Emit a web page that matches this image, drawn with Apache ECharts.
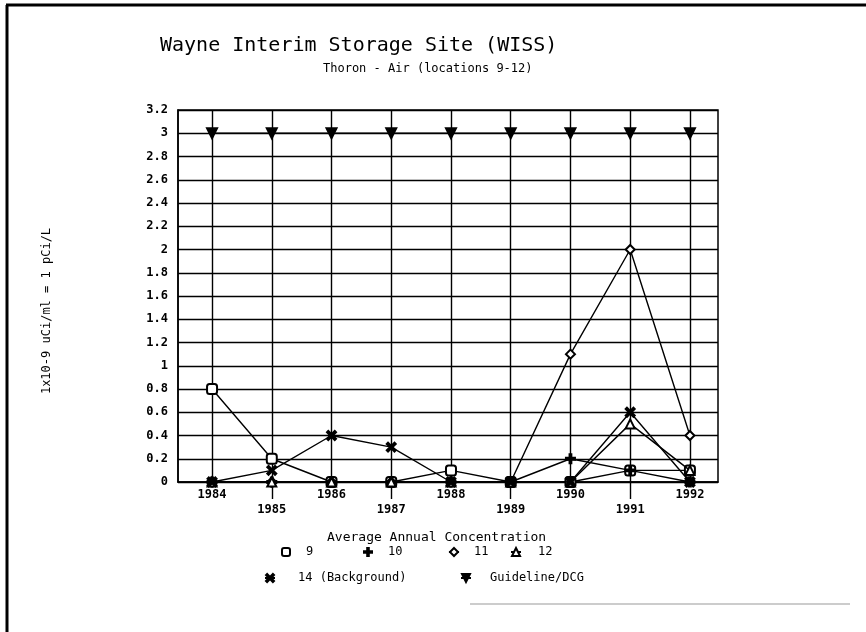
<!DOCTYPE html>
<html><head><meta charset="utf-8">
<script src="https://cdn.jsdelivr.net/npm/echarts@6/dist/echarts.min.js"></script>
<style>html,body{margin:0;padding:0;background:#fff}#c{width:866px;height:632px}</style>
</head><body><div id="c"></div>
<script>
// ---- data ----
const years = [1984, 1985, 1986, 1987, 1988, 1989, 1990, 1991, 1992];
const oddYears = [1985, 1987, 1989, 1991];
const loc9  = [0.8, 0.2, 0, 0, 0.1, 0, 0, 0.1, 0.1];
const loc10 = [0, 0, 0, 0, 0, 0, 0.2, 0.1, 0];
const loc11 = [0, 0, 0, 0, 0, 0, 1.1, 2.0, 0.4];
const loc12 = [0, 0, 0, 0, 0, 0, 0, 0.5, 0.1];
const loc14 = [0, 0.1, 0.4, 0.3, 0, 0, 0, 0.6, 0];
const guideline = [3, 3, 3, 3, 3, 3, 3, 3, 3];
const seriesNames = ['9', '10', '11', '12', '14 (Background)', 'Guideline/DCG'];

// ---- styling ----
const MONO = 'DejaVu Sans Mono';
const PLUS = 'path://M4,0 L6,0 L6,4 L10,4 L10,6 L6,6 L6,10 L4,10 L4,6 L0,6 L0,4 L4,4 Z';
const CROSS = 'path://M0,1.4 L1.4,0 L5,3.6 L8.6,0 L10,1.4 L6.4,5 L10,8.6 L8.6,10 L5,6.4 L1.4,10 L0,8.6 L3.6,5 Z';
const DOWNTRI = 'path://M0,0 L10,0 L5,9 Z';
const symbols = ['emptyRoundRect', PLUS, 'emptyDiamond', 'emptyTriangle', CROSS, DOWNTRI];
const sizes = [10, 9, 9, 9, 9, 10];
const values = [loc9, loc10, loc11, loc12, loc14, guideline];

const chart = echarts.init(document.getElementById('c'), null, {renderer: 'canvas'});

const series = values.map((arr, i) => ({
  name: seriesNames[i],
  type: 'line',
  xAxisIndex: 0,
  data: years.map((y, k) => [y, arr[k]]),
  symbol: symbols[i],
  symbolSize: sizes[i],
  showAllSymbol: true,
  lineStyle: {color: '#000', width: 1.4},
  itemStyle: {color: '#000', borderColor: '#000', borderWidth: 2},
  z: 3 + i,
  animation: false
}));

function legendAt(name, left, top, pad) {
  return {
    data: [name], left: left, top: top, orient: 'horizontal',
    itemWidth: 10, itemHeight: 10, padding: 0,
    textStyle: {fontFamily: MONO, fontSize: 12, color: '#000', padding: [0, 0, 0, pad]},
    selectedMode: false
  };
}

const option = {
  backgroundColor: '#fff',
  animation: false,
  title: [
    {text: 'Wayne Interim Storage Site (WISS)', left: 155, top: 31,
     textStyle: {fontFamily: MONO, fontSize: 20, fontWeight: 'normal', color: '#000'}},
    {text: 'Thoron - Air (locations 9-12)', left: 318, top: 58,
     textStyle: {fontFamily: MONO, fontSize: 12, fontWeight: 'normal', color: '#000'}},
    {text: 'Average Annual Concentration', left: 322, top: 526,
     textStyle: {fontFamily: MONO, fontSize: 13, fontWeight: 'normal', color: '#000'}}
  ],
  legend: [
    legendAt('9', 280, 546, 10),
    legendAt('10', 362, 546, 10),
    legendAt('11', 448, 546, 10),
    legendAt('12', 510, 546, 12),
    legendAt('14 (Background)', 264, 572, 18),
    legendAt('Guideline/DCG', 460, 572, 14)
  ],
  grid: {left: 178, top: 110, width: 540, height: 372, show: true,
         borderColor: '#000', borderWidth: 1.5, containLabel: false},
  xAxis: [
    {type: 'value', min: 1983.43, max: 1992.47, position: 'bottom',
     axisLine: {show: true, lineStyle: {color: '#000', width: 1.5}},
     axisTick: {show: false, customValues: years},
     splitLine: {show: true, lineStyle: {color: '#000', width: 1.4}},
     axisLabel: {customValues: years, margin: 5, lineHeight: 15,
       fontFamily: MONO, fontSize: 12, fontWeight: 'bold', color: '#000',
       formatter: v => (v % 2 === 1 ? '\n' + v : String(v))}},
    {type: 'value', min: 1983.43, max: 1992.47, position: 'bottom',
     axisLine: {show: false}, splitLine: {show: false}, axisLabel: {show: false},
     axisTick: {show: true, customValues: oddYears, length: 17,
                lineStyle: {color: '#000', width: 1.4}}}
  ],
  yAxis: {
    type: 'value', min: 0, max: 3.2, interval: 0.2,
    axisLine: {show: true, lineStyle: {color: '#000', width: 1.5}},
    axisTick: {show: false},
    splitLine: {show: true, lineStyle: {color: '#000', width: 1.4}},
    axisLabel: {margin: 10, fontFamily: MONO, fontSize: 12, fontWeight: 'bold', color: '#000',
      formatter: v => String(Math.round(v * 10) / 10)},
    name: '1x10-9 uCi/ml = 1 pCi/L', nameLocation: 'middle', nameGap: 125, nameRotate: 90,
    nameTextStyle: {fontFamily: MONO, fontSize: 12, color: '#000', padding: [0, 30, 0, 0]}
  },
  graphic: [
    {type: 'line', shape: {x1: 6, y1: 5, x2: 866, y2: 5}, style: {stroke: '#000', lineWidth: 3}, silent: true},
    {type: 'line', shape: {x1: 7, y1: 5, x2: 7, y2: 632}, style: {stroke: '#000', lineWidth: 3}, silent: true},
    {type: 'line', shape: {x1: 470, y1: 604, x2: 850, y2: 604}, style: {stroke: '#999', lineWidth: 1}, silent: true}
  ],
  series: series
};
chart.setOption(option);
</script>
</body></html>
